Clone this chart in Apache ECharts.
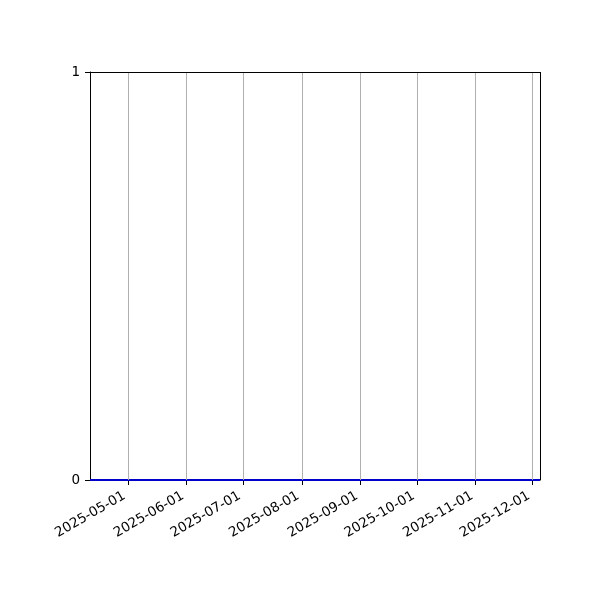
<!DOCTYPE html>
<html><head><meta charset="utf-8">
<script src="https://cdn.jsdelivr.net/npm/echarts@6/dist/echarts.min.js"></script>
<style>html,body{margin:0;padding:0;background:#fff}#c{width:600px;height:600px}</style>
</head><body><div id="c"></div>
<script>
// Series: weekly dates, all zero values
const dates = ["2025-04-11","2025-04-18","2025-04-25","2025-05-02","2025-05-09","2025-05-16","2025-05-23","2025-05-30",
"2025-06-06","2025-06-13","2025-06-20","2025-06-27","2025-07-04","2025-07-11","2025-07-18","2025-07-25",
"2025-08-01","2025-08-08","2025-08-15","2025-08-22","2025-08-29","2025-09-05","2025-09-12","2025-09-19","2025-09-26",
"2025-10-03","2025-10-10","2025-10-17","2025-10-24","2025-10-31","2025-11-07","2025-11-14","2025-11-21","2025-11-28","2025-12-05"];
const values = [0,0,0,0,0,0,0,0,0,0,0,0,0,0,0,0,0,0,0,0,0,0,0,0,0,0,0,0,0,0,0,0,0,0,0];
const xTicks = ["2025-05-01","2025-06-01","2025-07-01","2025-08-01","2025-09-01","2025-10-01","2025-11-01","2025-12-01"];
const yTicks = [0, 1];

const DAY = 86400000;
const ts = s => Math.round(new Date(s + "T00:00:00Z").getTime() / DAY); // days since epoch
const pad = n => String(n).padStart(2, "0");
const fmt = v => { const d = new Date(v * DAY); return d.getUTCFullYear() + "-" + pad(d.getUTCMonth()+1) + "-" + pad(d.getUTCDate()); };

const chart = echarts.init(document.getElementById("c"), null, {renderer: "canvas"});
chart.setOption({
  animation: false,
  textStyle: {fontFamily: "DejaVu Sans"},
  grid: {left: 90, right: 60, top: 72, bottom: 120, containLabel: false},
  xAxis: {
    type: "value",
    min: ts(dates[0]), max: ts(dates[dates.length-1]),
    axisLine: {show: true, onZero: false, lineStyle: {color: "#000", width: 1}},
    axisTick: {show: true, length: 5, lineStyle: {color: "#000"}, customValues: xTicks.map(ts)},
    axisLabel: {customValues: xTicks.map(ts), formatter: v => fmt(v), rotate: 30, align: "right", verticalAlign: "bottom",
      color: "#000", fontSize: 13.5, margin: 21, hideOverlap: false},
    splitLine: {show: false}
  },
  yAxis: {
    type: "value", min: 0, max: 1, interval: 1,
    axisLine: {show: true, lineStyle: {color: "#000"}},
    axisTick: {show: true, length: 5, lineStyle: {color: "#000"}},
    axisLabel: {color: "#000", fontSize: 13.5, margin: 10, formatter: v => yTicks.includes(v) ? String(v) : ""},
    splitLine: {show: false}
  },
  series: [{
    type: "line",
    data: dates.map((d, i) => [ts(d), values[i]]),
    showSymbol: false,
    lineStyle: {color: "#0000c8", width: 2},
    z: 3,
    markLine: {
      silent: true, symbol: "none", label: {show: false},
      lineStyle: {color: "#b0b0b0", width: 1, type: "solid"},
      data: xTicks.map(t => ({xAxis: ts(t)}))
    }
  }, {
    type: "line", data: [],
    markLine: {
      silent: true, symbol: "none", label: {show: false},
      lineStyle: {color: "#000", width: 1, type: "solid"},
      data: [{yAxis: 1}, {xAxis: ts(dates[dates.length-1])}]
    }
  }]
});
</script></body></html>
